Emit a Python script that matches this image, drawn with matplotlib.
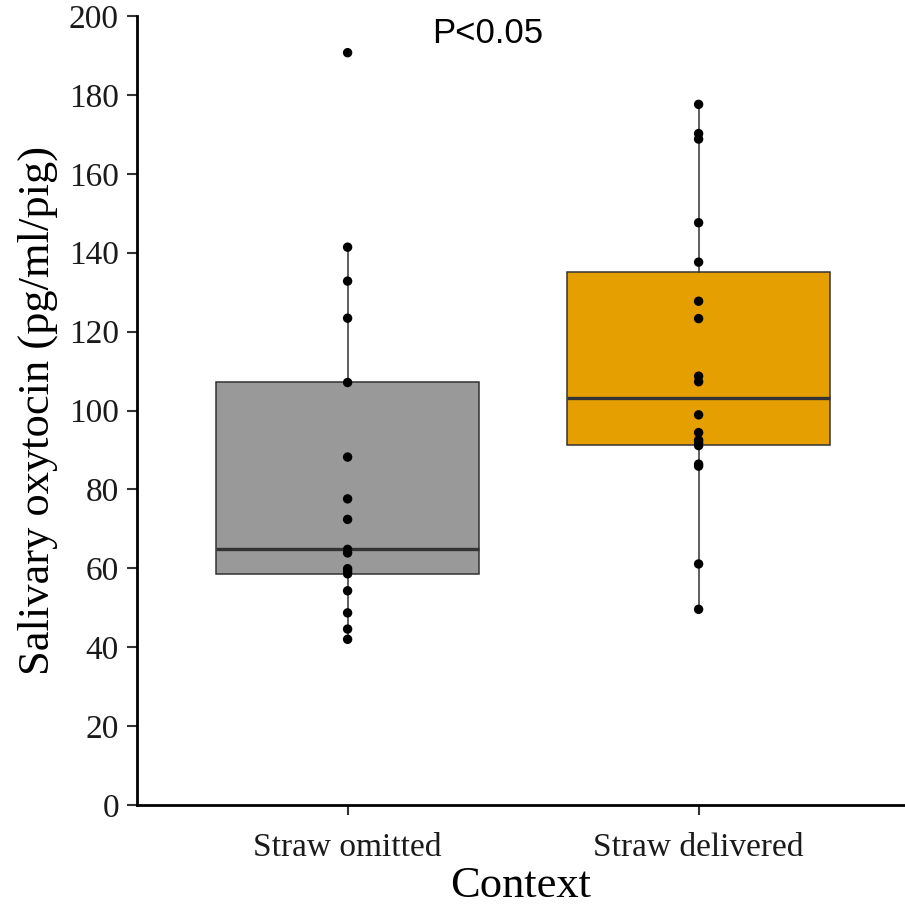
import numpy as np
import matplotlib
matplotlib.use("Agg")
import matplotlib.pyplot as plt

# values
groups = ["Straw omitted", "Straw delivered"]
omitted = [190.7, 141.4, 132.8, 123.4, 107.1, 88.2, 77.6, 72.4, 64.8, 63.9,
           59.9, 59.2, 58.6, 54.3, 48.7, 44.6, 42.0]
delivered = [177.6, 170.2, 168.8, 147.6, 137.6, 127.7, 123.3, 108.7, 107.3,
             98.9, 94.4, 92.5, 91.8, 91.1, 86.4, 85.9, 61.1, 49.6]
fills = ["#999999", "#E69F00"]
yticks = [0, 20, 40, 60, 80, 100, 120, 140, 160, 180, 200]

plt.rcParams['font.family'] = ['Liberation Serif', 'DejaVu Serif']

fig = plt.figure(figsize=(9.05, 9.09), dpi=100)
ax = fig.add_axes([137 / 905, 104 / 909, 1 - 137 / 905, (805 - 16) / 909])

pos = [1, 2]
edge = "#333333"
bp = ax.boxplot([omitted, delivered], positions=pos, widths=0.75,
                patch_artist=True, showfliers=False, showcaps=False,
                boxprops=dict(edgecolor=edge, linewidth=1.1),
                whiskerprops=dict(color=edge, linewidth=1.1),
                medianprops=dict(color=edge, linewidth=2.4),
                zorder=2)
for patch, c in zip(bp['boxes'], fills):
    patch.set_facecolor(c)

for p, vals in zip(pos, [omitted, delivered]):
    ax.scatter(np.full(len(vals), p), vals, s=46, color="black",
               edgecolors="none", zorder=3)

ax.text(1.4, 195.5, "P<0.05", ha="center", va="center", fontsize=25,
        family=["Liberation Sans", "DejaVu Sans"])

ax.set_xlim(0.4, 2.588)
ax.set_ylim(0, 200)
ax.set_xticks(pos)
ax.set_xticklabels(groups)
ax.set_yticks(yticks)
for s in ["top", "right"]:
    ax.spines[s].set_visible(False)
for s in ["left", "bottom"]:
    ax.spines[s].set_linewidth(2.0)
    ax.spines[s].set_color("black")
ax.tick_params(axis="both", length=7, width=1.5, color=edge, labelsize=24,
               labelcolor="#1a1a1a")
ax.tick_params(axis="x", pad=13)
ax.tick_params(axis="y", pad=6)
ax.set_xlabel("Context", fontsize=32, labelpad=2)
ax.set_ylabel("Salivary oxytocin (pg/ml/pig)", fontsize=32, labelpad=8)

fig.savefig("out.png", dpi=100)
